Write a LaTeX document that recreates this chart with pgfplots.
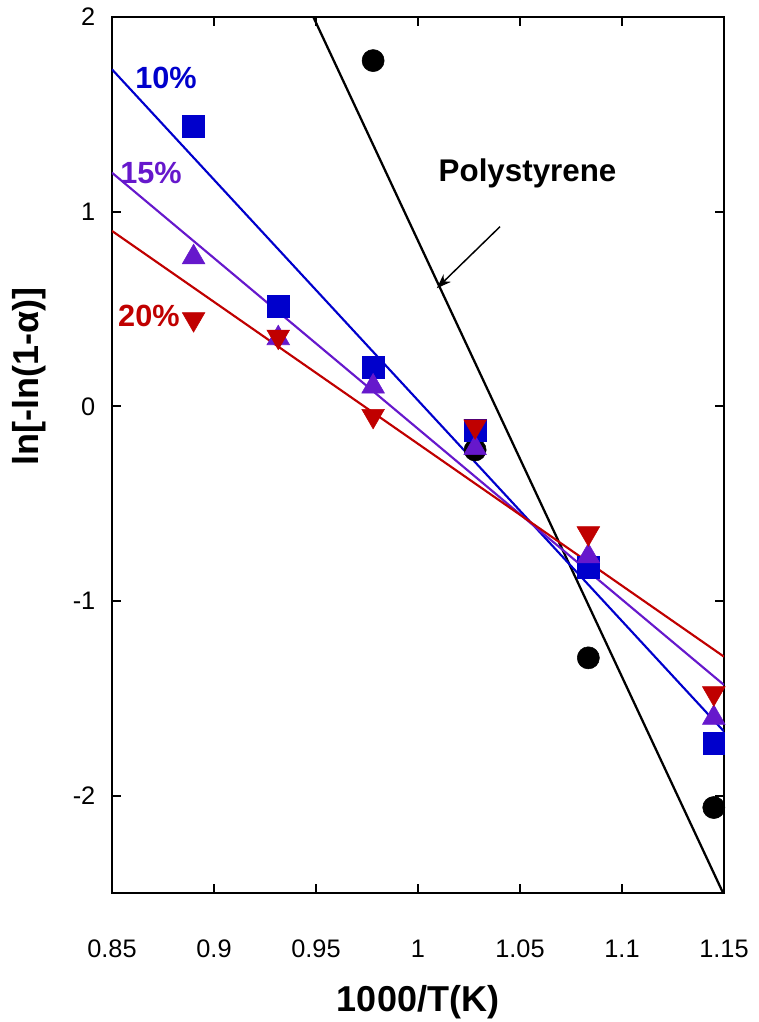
\documentclass[border=0pt]{standalone}
\usepackage{fontspec}
\setmainfont{Liberation Sans}
\usepackage{pgfplots}
\pgfplotsset{compat=1.18}
\usetikzlibrary{arrows.meta}
\definecolor{cblue}{RGB}{0,0,204}
\definecolor{cpurple}{RGB}{102,24,204}
\definecolor{cred}{RGB}{192,0,0}
\begin{document}
\begin{tikzpicture}
\useasboundingbox (-84pt,-96.75pt) rectangle (484.5pt,669.75pt);
\begin{axis}[
  at={(0,0)}, anchor=south west, scale only axis,
  width=459pt, height=657pt,
  xmin=0.85, xmax=1.15, ymin=-2.5, ymax=2,
  xtick={0.85,0.9,0.95,1,1.05,1.1,1.15},
  xticklabels={0.85,0.9,0.95,1,1.05,1.1,1.15},
  ytick={-2,-1,0,1,2},
  yticklabels={-2,-1,0,1,2},
  axis line style={line width=2pt},
  tick style={line width=1.5pt, black},
  major tick length=6.75pt,
  tick align=inside,
  xtick pos=both, ytick pos=both,
  xticklabel pos=lower, yticklabel pos=left,
  tick label style={font=\fontsize{19}{22}\selectfont},
  xticklabel style={yshift=-31.5pt},
  yticklabel style={xshift=-9pt},
  xlabel={1000/T(K)},
  ylabel={ln[-ln(1-α)]},
  label style={font=\fontsize{27}{30}\selectfont\bfseries},
  xlabel style={at={(axis description cs:0.5,-0.1248)}, anchor=center},
  ylabel style={at={(axis description cs:-0.135,0.59)}, anchor=center},
]
% fitted lines
\addplot[black, line width=1.7pt] coordinates {(0.9487,2) (1.15,-2.51)};
\addplot[cblue, line width=1.6pt] coordinates {(0.85,1.731) (1.15,-1.67)};
\addplot[cpurple, line width=1.6pt] coordinates {(0.85,1.200) (1.15,-1.431)};
\addplot[cred, line width=1.6pt] coordinates {(0.85,0.901) (1.15,-1.286)};
% data
\addplot[only marks, mark=*, mark size=8.3pt, black, mark options={line width=0.4pt}]
  coordinates {(0.978,1.776) (1.028,-0.224) (1.0835,-1.292) (1.145,-2.061)};
\addplot[only marks, mark=square*, mark size=8.2pt, cblue, mark options={line width=0.4pt}]
  coordinates {(0.890,1.437) (0.9315,0.516) (0.978,0.202) (1.028,-0.121) (1.0835,-0.825) (1.145,-1.730)};
\addplot[only marks, mark=triangle*, mark size=9.8pt, cpurple, mark options={line width=0.4pt}]
  coordinates {(0.890,0.766) (0.9315,0.350) (0.978,0.102) (1.028,-0.215) (1.0835,-0.770) (1.145,-1.600)};
\addplot[only marks, mark=triangle*, mark size=9.8pt, cred, mark options={line width=0.4pt, rotate=180}]
  coordinates {(0.890,0.448) (0.9315,0.358) (0.978,-0.049) (1.028,-0.103) (1.0835,-0.652) (1.145,-1.474)};
% annotations
\node[cblue, font=\fontsize{23}{25}\selectfont\bfseries] at (axis cs:0.8765,1.689) {10\%};
\node[cpurple, font=\fontsize{23}{25}\selectfont\bfseries] at (axis cs:0.8691,1.201) {15\%};
\node[cred, font=\fontsize{23}{25}\selectfont\bfseries] at (axis cs:0.8681,0.462) {20\%};
\node[black, anchor=base, font=\fontsize{23.5}{25}\selectfont\bfseries] at (axis cs:1.0537,1.154) {Polystyrene};
\draw[-{Stealth[length=11pt,width=8pt]}, line width=1.1pt] (axis cs:1.0402,0.923) -- (axis cs:1.0092,0.6065);
\end{axis}
\end{tikzpicture}
\end{document}
